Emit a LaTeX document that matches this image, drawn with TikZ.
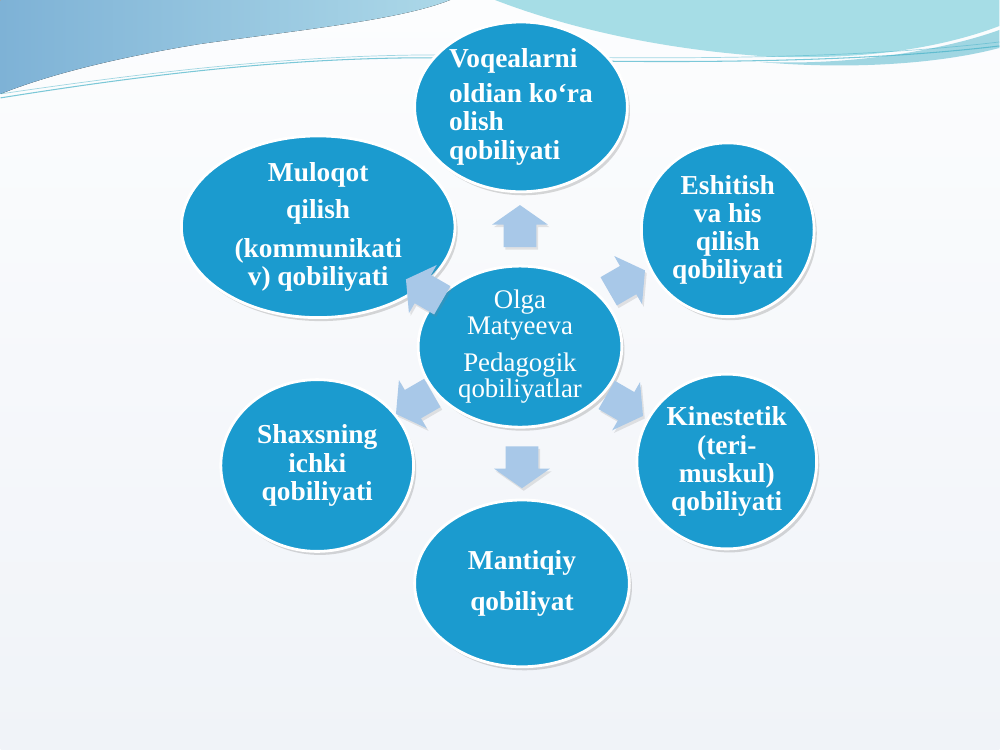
\documentclass[tikz,border=0pt]{standalone}
\usepackage{fontspec}
\setmainfont{Liberation Serif}
\usetikzlibrary{shapes.geometric,shapes.arrows,shadows}

\definecolor{nodeblue}{RGB}{27,155,207}
\definecolor{arrowblue}{RGB}{168,200,232}
\definecolor{bgtop}{RGB}{252,253,254}
\definecolor{bgbottom}{RGB}{240,243,248}
\definecolor{waveblue}{RGB}{126,178,214}
\definecolor{wavelight}{RGB}{172,216,232}
\definecolor{wavecyan}{RGB}{166,221,230}
\definecolor{waveteal}{RGB}{70,178,200}

\begin{document}
\begin{tikzpicture}[x=0.02cm,y=-0.02cm,
    outer node/.style={ellipse,draw=white,line width=1.6pt,fill=nodeblue,text=white,inner sep=0pt,align=center,
        font=\bfseries\fontsize{15.6}{16}\selectfont,
        drop shadow={opacity=0.3,shadow xshift=1.5pt,shadow yshift=-2pt}},
    centre node/.style={outer node,font=\fontsize{15.3}{15}\selectfont},
    block arrow/.style={single arrow,fill=arrowblue,inner xsep=0pt,inner ysep=0.32cm,minimum height=0.84cm,
        single arrow head extend=0.23cm,single arrow tip angle=110,
        drop shadow={opacity=0.2,shadow xshift=1pt,shadow yshift=-1.5pt}}]

    % background and top wave
    \fill[top color=bgtop,bottom color=bgbottom] (0,0) rectangle (1000,750);
    \fill[left color=waveblue,right color=wavelight] (0,0) -- (450,0)
        .. controls (400,20) and (300,30) .. (200,44) .. controls (120,57) and (50,74) .. (0,94) -- cycle;
    \fill[wavecyan] (495,0) .. controls (560,25) and (650,48) .. (760,56)
        .. controls (870,62) and (950,45) .. (1000,26) -- (1000,0) -- cycle;
    \fill[waveteal,opacity=0.5] (760,62) .. controls (860,66) and (950,48) .. (1000,30)
        -- (1000,48) .. controls (940,64) and (850,70) .. (760,62) -- cycle;
    \draw[waveteal,opacity=0.7,line width=0.6pt] (0,98) .. controls (150,74) and (300,56) .. (450,58)
        .. controls (650,64) and (850,64) .. (1000,46);
    \draw[waveteal,opacity=0.5,line width=0.4pt] (0,94) .. controls (150,72) and (300,54) .. (450,55)
        .. controls (650,60) and (850,60) .. (1000,42);

    % ellipses
    \node[centre node,minimum width=4.08cm,minimum height=3cm] (0) at (520,347)
        {Olga\\Matyeeva\\[6pt]Pedagogik\\qobiliyatlar};
    \node[outer node,minimum width=4.26cm,minimum height=3.4cm,align=left] (1) at (521,107)
        {Voqealarni\\[4pt]oldian ko‘ra\\olish\\qobiliyati};
    \node[outer node,minimum width=5.48cm,minimum height=3.3cm] (2) at (318,227)
        {Muloqot\\[5pt]qilish\\[6pt](kommunikati\\v) qobiliyati};
    \node[outer node,minimum width=3.46cm,minimum height=3.48cm] (3) at (728,230)
        {Eshitish\\va his\\qilish\\qobiliyati};
    \node[outer node,minimum width=3.6cm,minimum height=3.5cm] (4) at (727,462)
        {Kinestetik\\(teri-\\muskul)\\qobiliyati};
    \node[outer node,minimum width=3.86cm,minimum height=3.44cm] (5) at (317,466)
        {Shaxsning\\ichki\\qobiliyati};
    \node[outer node,minimum width=4.3cm,minimum height=3.34cm] (6) at (522,584)
        {Mantiqiy\\[7pt]qobiliyat};

    % block arrows
    \node[block arrow,rotate=90] (a1) at (520,232) {};
    \node[block arrow,rotate=150] (a2) at (429,293) {};
    \node[block arrow,rotate=30] (a3) at (622,284) {};
    \node[block arrow,rotate=-30] (a4) at (620,403) {};
    \node[block arrow,rotate=-150] (a5) at (419,401) {};
    \node[block arrow,rotate=-90] (a6) at (522,462) {};
\end{tikzpicture}
\end{document}
